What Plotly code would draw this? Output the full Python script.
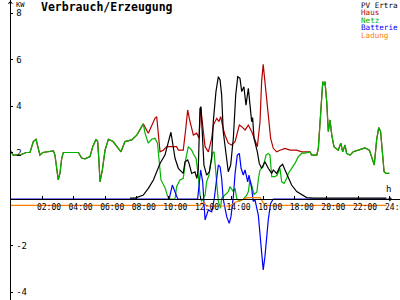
import plotly.graph_objects as go

# ---------------- data (hours, kW) ----------------
# Haus == Netz during night / morning
base_t = [0, 0.18, 0.6, 0.82, 1.0, 1.24, 1.45, 1.62, 1.77, 1.87, 2.04, 2.4, 2.72, 2.82, 2.93, 3.03,
          3.14, 3.25, 3.35, 3.55, 4.3, 4.51, 4.72, 5.04, 5.21, 5.42, 5.52, 5.6, 5.67, 5.82, 5.99,
          6.2, 6.5, 6.83, 7.0, 7.25, 7.68, 8.0, 8.2, 8.41]
base_v = [2.08, 1.89, 1.89, 1.95, 2.0, 2.0, 2.47, 2.57, 2.18, 1.89, 2.0, 2.05, 2.07, 1.89, 1.39, 0.82,
          1.12, 1.76, 2.0, 2.0, 2.0, 1.76, 1.73, 1.83, 2.25, 2.57, 2.47, 1.68, 0.74, 1.25, 2.1,
          2.57, 2.47, 2.18, 2.03, 2.47, 2.54, 2.75, 2.97, 3.23]

# Haus == Netz during evening
eve_t = [18.96, 19.07, 19.39, 19.49, 19.6, 19.7, 19.77, 19.85, 19.91, 20.02, 20.12, 20.23, 20.34,
         20.48, 20.75, 20.91, 21.03, 21.18, 21.28, 21.49, 21.7, 22.02, 22.44, 22.72, 22.87, 23.03,
         23.18, 23.31, 23.43, 23.54, 23.65, 23.77, 23.98]
eve_v = [2.03, 1.89, 1.89, 2.18, 3.33, 4.76, 5.05, 4.9, 5.05, 4.18, 2.9, 3.4, 2.75,
         2.25, 2.1, 2.4, 2.03, 2.32, 1.96, 1.89, 2.03, 2.1, 2.2, 2.1, 1.82, 1.46,
         2.54, 3.07, 2.9, 2.1, 1.17, 1.1, 1.1]

haus_day_t = [8.73, 8.94, 9.15, 9.26, 9.36, 9.47, 9.68, 9.89, 10.2, 10.52, 10.63, 10.94, 11.09, 11.22,
              11.32, 11.47, 11.58, 11.79, 11.94, 12.04, 12.15, 12.32, 12.53, 12.74, 12.84, 13.06, 13.2,
              13.31, 13.44, 13.58, 13.79, 14.0, 14.22, 14.36, 14.49, 14.64, 14.85, 15.06, 15.27, 15.48,
              15.63, 15.8, 15.9, 16.0, 16.11, 16.22, 16.32, 16.47, 16.64, 16.85, 17.06, 17.38, 17.7,
              18.12, 18.44, 18.75]
haus_day_v = [2.83, 3.18, 3.47, 3.54, 2.83, 2.03, 2.1, 2.25, 2.25, 2.25, 2.1, 2.1, 2.97, 3.83,
              3.47, 3.11, 2.75, 2.83, 2.61, 3.97, 3.33, 2.25, 2.03, 2.61, 3.18, 3.47, 3.33,
              3.54, 3.11, 2.75, 2.4, 2.32, 2.47, 2.83, 3.18, 3.11, 2.97, 3.18, 2.9, 2.54,
              2.25, 3.33, 5.05, 5.79, 5.05, 4.33, 3.61, 2.61, 2.18, 2.03, 2.1, 2.18, 2.1,
              2.1, 2.03, 2.03]

netz_day_t = [8.52, 8.73, 8.94, 9.15, 9.31, 9.41, 9.53, 9.78, 9.96, 10.1, 10.42, 10.52, 10.73, 10.94,
              11.09, 11.26, 11.47, 11.62, 11.75, 11.89, 12.0, 12.1, 12.32, 12.42, 12.57, 12.68, 12.78,
              12.89, 13.0, 13.1, 13.16, 13.3, 13.37, 13.58, 13.79, 13.9, 14.11, 14.22, 14.32, 14.5,
              14.75, 14.95, 15.06, 15.16, 15.27, 15.42, 15.6, 15.7, 15.8, 16.0, 16.18, 16.32, 16.43,
              16.54, 16.75, 16.89, 17.06, 17.17, 17.32, 17.49, 17.59, 17.8, 18.01, 18.22, 18.44, 18.75]
netz_day_v = [2.83, 2.4, 2.57, 2.61, 2.4, 1.6, 0.82, 0.5, 0.1, 0.0, 0.0, 0.53, 0.82, 0.89,
              1.68, 2.25, 2.1, 1.89, 1.75, 1.03, 0.17, -0.1, 0.17, 0.74, 1.03, 1.6, 1.96,
              2.03, 1.17, 0.17, -0.1, -0.4, 0.03, 0.17, 0.32, 0.53, 0.32, 0.46, 0.03, -0.1,
              0.0, 0.15, 0.32, 0.82, 0.6, 0.2, 0.3, 0.9, 1.25, 1.39, 1.89, 1.96, 1.89,
              0.96, 0.96, 1.03, 1.32, 0.74, 0.67, 0.89, 1.1, 1.32, 1.53, 1.82, 1.96, 1.98]

pv_t = [7.57, 7.9, 8.41, 8.73, 9.05, 9.26, 9.47, 9.78, 10.0, 10.16, 10.42, 10.63, 10.84, 10.94, 11.05,
        11.22, 11.32, 11.47, 11.68, 11.8, 11.89, 12.0, 12.06, 12.15, 12.25, 12.42, 12.59, 12.74, 12.84,
        13.01, 13.16, 13.27, 13.37, 13.47, 13.63, 13.79, 13.94, 14.11, 14.26, 14.39, 14.53, 14.64,
        14.78, 14.91, 15.06, 15.16, 15.27, 15.33, 15.42, 15.63, 15.75, 15.9, 16.11, 16.32, 16.54,
        16.64, 16.85, 17.06, 17.23, 17.38, 17.59, 17.8, 18.12, 18.44, 18.75, 19.2, 23.8]
pv_v = [0.04, 0.04, 0.17, 0.46, 0.82, 1.17, 1.53, 1.89, 2.54, 2.87, 1.75, 1.32, 1.17, 1.1, 1.6,
        1.68, 1.5, 1.1, 1.17, 0.89, 1.25, 3.9, 3.97, 2.61, 1.46, 1.03, 1.17, 1.75, 3.33,
        4.62, 5.26, 5.12, 4.47, 2.9, 1.89, 1.17, 1.46, 2.61, 4.47, 5.26, 5.19, 4.62,
        4.83, 4.04, 4.76, 4.04, 3.33, 3.5, 2.61, 2.03, 1.53, 1.32, 1.6, 1.32, 1.1,
        1.25, 1.1, 1.39, 1.49, 1.25, 0.89, 0.6, 0.32, 0.17, 0.06, 0.04, 0.04]

bat_t = [0, 10.05, 10.25, 10.59, 11.85, 12.04, 12.17, 12.25, 12.32, 12.53, 12.74, 12.9, 13.16, 13.27,
         13.37, 13.47, 13.69, 13.85, 13.96, 14.11, 14.22, 14.36, 14.49, 14.6, 14.74, 14.85, 15.02,
         15.1, 15.27, 15.37, 15.48, 15.69, 15.8, 15.9, 16.0, 16.11, 16.22, 16.32, 16.47, 16.64, 23.8]
bat_v = [0, 0, 0.6, 0, 0, 1.25, 0.74, -0.1, -0.9, -0.47, -0.55, 0, 1.46, 1.39,
         0.89, 0, -0.76, -1.05, -0.76, 0.1, 1.1, 1.89, 1.96, 1.32, 1.03, 1.25, 0.74,
         1.03, 0.46, -0.1, -0.04, -0.69, -1.47, -2.27, -3.05, -2.48, -1.62, -0.9, -0.19, 0, 0]

lad_t = [0, 12.0, 12.1, 12.3, 12.4, 13.9, 14.2, 14.5, 14.74, 15.0, 15.8, 15.95, 16.11, 23.8]
lad_v = [-0.27, -0.27, -0.18, -0.18, -0.3, -0.3, -0.15, -0.08, 0.0, 0.06, 0.06, -0.1, -0.27, -0.27]

x_tickvals = [2, 4, 6, 8, 10, 12, 14, 16, 18, 20, 22, 24]
x_ticktext = ["02:00", "04:00", "06:00", "08:00", "10:00", "12:00", "14:00", "16:00",
              "18:00", "20:00", "22:00", "24:00"]
y_tickvals = [-4, -2, 2, 4, 6, 8]
y_ticktext = ["-4", "-2", "2", "4", "6", "8"]

series_names = ["PV Ertra", "Haus", "Netz", "Batterie", "Ladung"]
series_colors = ["#000000", "#b40000", "#00b400", "#0000ff", "#ff8000"]

# ---------------- assemble ----------------
haus_t = base_t + haus_day_t + eve_t
haus_v = base_v + haus_day_v + eve_v
netz_t = base_t + netz_day_t + eve_t
netz_v = base_v + netz_day_v + eve_v

W, H = 400, 300
x0_px = 10.4      # pixel of hour 0
px_per_h = 15.8
y0_px = 199       # pixel of 0 kW (from top)
px_per_kw = 23.25

x_range = [0, (W - x0_px) / px_per_h]
y_range = [-(H - y0_px) / px_per_kw, y0_px / px_per_kw]
zero_frac = (0 - y_range[0]) / (y_range[1] - y_range[0])

fig = go.Figure()
line_data = {
    "Haus": (haus_t, haus_v),
    "Netz": (netz_t, netz_v),
    "Batterie": (bat_t, bat_v),
    "PV Ertra": (pv_t, pv_v),
    "Ladung": (lad_t, lad_v),
}
color_of = dict(zip(series_names, series_colors))
for name in ["Haus", "Netz", "Batterie", "PV Ertra", "Ladung"]:
    t, v = line_data[name]
    fig.add_trace(go.Scatter(x=t, y=v, mode="lines", name=name,
                             line=dict(color=color_of[name], width=1.2),
                             showlegend=False, hoverinfo="skip"))

mono = "DejaVu Sans Mono"
# tick labels except the last one (which overflows the page) are drawn by the axis
fig.update_layout(
    width=W, height=H,
    margin=dict(l=0, r=0, t=0, b=0),
    paper_bgcolor="white", plot_bgcolor="white",
    xaxis=dict(domain=[x0_px / W, 1], range=x_range, anchor="free", position=zero_frac,
               showgrid=False, zeroline=False, showline=True, linecolor="black", linewidth=1,
               tickmode="array", tickvals=x_tickvals[:-1], ticktext=x_ticktext[:-1],
               ticks="inside", ticklen=3, tickcolor="black", ticklabelshift=7,
               ticklabelstandoff=0,
               tickfont=dict(family=mono, size=8, color="black")),
    yaxis=dict(domain=[0, 1], range=y_range, anchor="free", position=x0_px / W, side="right",
               showgrid=False, zeroline=False, showline=True, linecolor="black", linewidth=1,
               tickmode="array", tickvals=y_tickvals, ticktext=y_ticktext,
               ticks="outside", ticklen=2, tickcolor="black", ticklabelstandoff=1,
               tickfont=dict(family=mono, size=9, color="black")),
)
# the tick mark for the last label
fig.add_shape(type="line", xref="x", yref="paper", x0=x_tickvals[-1], x1=x_tickvals[-1],
              y0=zero_frac, y1=zero_frac + 3 / H, line=dict(color="black", width=1))

ann = []
ann.append(dict(text=x_ticktext[-1], xref="x", yref="paper", x=x_tickvals[-1], y=zero_frac,
                xanchor="center", yanchor="top", xshift=7, yshift=-2, showarrow=False,
                font=dict(family=mono, size=8, color="black")))
ann.append(dict(text="<b>Verbrauch/Erzeugung</b>", xref="paper", yref="paper",
                x=39 / W, y=1 - 7 / H, xanchor="left", yanchor="middle", showarrow=False,
                font=dict(family=mono, size=11.5, color="black")))
ann.append(dict(text="KW", xref="paper", yref="paper", x=13.5 / W, y=1 - 4.5 / H,
                xanchor="left", yanchor="middle", showarrow=False,
                font=dict(family=mono, size=7, color="black")))
ann.append(dict(text="h", xref="paper", yref="paper", x=384 / W, y=1 - 189 / H,
                xanchor="left", yanchor="middle", showarrow=False,
                font=dict(family=mono, size=9, color="black")))
leg_y = [5, 12.7, 20.2, 27.8, 35.5]
for name, col, yy in zip(series_names, series_colors, leg_y):
    ann.append(dict(text=name, xref="paper", yref="paper", x=359 / W, y=1 - yy / H,
                    xanchor="left", yanchor="middle", showarrow=False,
                    font=dict(family=mono, size=7.6, color=col)))
# axis arrows
ann.append(dict(x=x0_px / W, y=1, xref="paper", yref="paper", ax=0, ay=6, text="",
                showarrow=True, arrowhead=4, arrowsize=0.8, arrowwidth=1, arrowcolor="black"))
ann.append(dict(x=392 / W, y=zero_frac, xref="paper",
                yref="paper", ax=-6, ay=0, text="", showarrow=True, arrowhead=4,
                arrowsize=0.8, arrowwidth=1, arrowcolor="black"))
fig.update_layout(annotations=ann)

fig.write_html("out.html")
